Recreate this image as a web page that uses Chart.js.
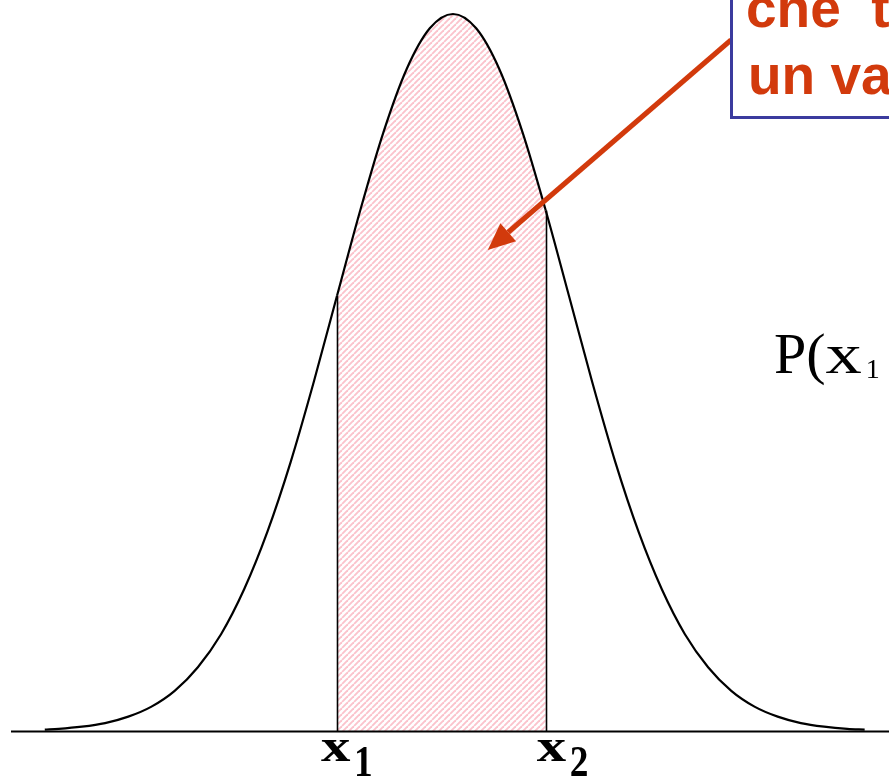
<!DOCTYPE html>
<html>
<head>
<meta charset="utf-8">
<script src="https://cdn.jsdelivr.net/npm/chart.js@4.4.1/dist/chart.umd.min.js"></script>
<style>
  html, body { margin: 0; padding: 0; background: #fff; }
  #wrap { width: 889px; height: 777px; position: relative; }
</style>
</head>
<body>
<div id="wrap"><canvas id="gaussChart"></canvas></div>
<script>
// curva: x in unità di sigma, y normalizzata al picco
const curveX = [-3.52, -3.4, -3.2, -3.0, -2.8, -2.6, -2.4, -2.2, -2.0, -1.8, -1.6, -1.4, -1.2,
  -1.0, -0.8, -0.6, -0.4, -0.2, 0.0, 0.2, 0.4, 0.6, 0.8, 1.0, 1.2, 1.4, 1.6, 1.8, 2.0,
  2.2, 2.4, 2.6, 2.8, 3.0, 3.2, 3.4, 3.55];
const curveY = [0.002, 0.003, 0.006, 0.011, 0.020, 0.034, 0.056, 0.089, 0.135, 0.198, 0.278, 0.375, 0.487,
  0.607, 0.726, 0.835, 0.923, 0.980, 1.000, 0.980, 0.923, 0.835, 0.726, 0.607, 0.487, 0.375, 0.278, 0.198, 0.135,
  0.089, 0.056, 0.034, 0.020, 0.011, 0.006, 0.003, 0.002];

// estremi dell'intervallo ed etichette
const boundX = [-1.0, 0.8];
const boundLabels = ['x', 'x'];
const boundSubs = ['1', '2'];

// testi del riquadro e della probabilità
const boxLines = ['che  tale', 'un valore'];
const probParts = ['P(', 'x', '1', ' \u2264 x \u2264 x'];

// punta della freccia (coordinate dati)
const arrowTip = { x: 0.30, y: 0.671 };

const RED = '#d23a0c';
const BLUE = '#3b3b9e';

// tratteggio rosa dell'area
function makeHatch() {
  const s = 6;
  const c = document.createElement('canvas');
  c.width = s;
  c.height = s;
  const g = c.getContext('2d');
  g.fillStyle = '#ffffff';
  g.fillRect(0, 0, s, s);
  g.strokeStyle = '#fbc3cc';
  g.lineWidth = 1.9;
  for (let k = -1; k <= 1; k++) {
    g.beginPath();
    g.moveTo(k * s, s);
    g.lineTo(k * s + s, 0);
    g.stroke();
  }
  return g.createPattern(c, 'repeat');
}
const hatch = makeHatch();

function inRange(v) {
  return v >= boundX[0] - 1e-6 && v <= boundX[1] + 1e-6;
}

// disegno di assi, etichette, riquadro e freccia
const overlay = {
  id: 'overlay',
  afterDatasetsDraw(chart) {
    const ctx = chart.ctx;
    const xs = chart.scales.x;
    const ys = chart.scales.y;
    const area = chart.chartArea;
    const y0 = ys.getPixelForValue(0);

    ctx.save();
    // linea di base
    ctx.strokeStyle = '#000';
    ctx.lineWidth = 2;
    ctx.beginPath();
    ctx.moveTo(area.left + 1, y0 + 0.5);
    ctx.lineTo(area.right, y0 + 0.5);
    ctx.stroke();

    // verticali agli estremi
    ctx.lineWidth = 1.6;
    boundX.forEach(b => {
      const i = curveX.indexOf(b);
      const px = Math.round(xs.getPixelForValue(b)) + 0.5;
      ctx.beginPath();
      ctx.moveTo(px, y0);
      ctx.lineTo(px, ys.getPixelForValue(curveY[i]));
      ctx.stroke();
    });

    // etichette x1, x2
    const shift = [-16, -9];
    ctx.fillStyle = '#000';
    ctx.textBaseline = 'alphabetic';
    boundX.forEach((b, i) => {
      const px = xs.getPixelForValue(b);
      ctx.save();
      ctx.translate(px + shift[i], 761);
      ctx.scale(1.25, 1);
      ctx.font = 'bold 47px "Liberation Serif", "Times New Roman", serif';
      ctx.fillText(boundLabels[i], 0, 0);
      ctx.restore();
      ctx.save();
      ctx.translate(px + shift[i] + 33, 776);
      ctx.scale(0.85, 1);
      ctx.font = 'bold 44px "Liberation Serif", "Times New Roman", serif';
      ctx.fillText(boundSubs[i], 0, 0);
      ctx.restore();
    });

    // P(x1 ...
    ctx.font = '58px "Liberation Serif", "Times New Roman", serif';
    ctx.fillText(probParts[0], 774, 373);
    let px = 774 + ctx.measureText(probParts[0]).width;
    ctx.save();
    ctx.translate(px, 373);
    ctx.scale(1.25, 1);
    ctx.fillText(probParts[1], 0, 0);
    ctx.restore();
    px += ctx.measureText(probParts[1]).width * 1.25 + 4;
    ctx.font = '28px "Liberation Serif", "Times New Roman", serif';
    ctx.fillText(probParts[2], px, 378);
    px += ctx.measureText(probParts[2]).width + 4;
    ctx.font = '58px "Liberation Serif", "Times New Roman", serif';
    ctx.fillText(probParts[3], px, 373);

    // freccia
    const tx = xs.getPixelForValue(arrowTip.x);
    const ty = ys.getPixelForValue(arrowTip.y);
    const sx = 731, sy = 40;
    const ang = Math.atan2(ty - sy, tx - sx);
    const headLen = 27, headW = 12;
    const bx = tx - headLen * Math.cos(ang);
    const by = ty - headLen * Math.sin(ang);
    ctx.strokeStyle = RED;
    ctx.fillStyle = RED;
    ctx.lineWidth = 5;
    ctx.beginPath();
    ctx.moveTo(sx, sy);
    ctx.lineTo(bx, by);
    ctx.stroke();
    ctx.beginPath();
    ctx.moveTo(tx, ty);
    ctx.lineTo(bx + headW * Math.sin(ang), by - headW * Math.cos(ang));
    ctx.lineTo(bx - headW * Math.sin(ang), by + headW * Math.cos(ang));
    ctx.closePath();
    ctx.fill();

    // riquadro
    ctx.fillStyle = '#fff';
    ctx.fillRect(731, -10, 200, 127);
    ctx.strokeStyle = BLUE;
    ctx.lineWidth = 3;
    ctx.strokeRect(731.5, -10, 200, 127.5);

    ctx.fillStyle = RED;
    ctx.font = 'bold 55px "Liberation Sans", Arial, sans-serif';
    ctx.fillText(boxLines[0], 746, 27);
    ctx.fillText(boxLines[1], 748, 94);
    ctx.restore();
  }
};

new Chart(document.getElementById('gaussChart'), {
  type: 'line',
  data: {
    datasets: [{
      data: curveX.map((x, i) => ({ x: x, y: curveY[i] })),
      borderColor: '#000',
      borderWidth: 2.2,
      backgroundColor: 'rgba(0,0,0,0)',
      pointRadius: 0,
      cubicInterpolationMode: 'monotone',
      fill: 'origin',
      segment: {
        backgroundColor: c => (inRange(c.p0.parsed.x) && inRange(c.p1.parsed.x)) ? hatch : 'rgba(0,0,0,0)'
      }
    }]
  },
  options: {
    responsive: true,
    maintainAspectRatio: false,
    animation: false,
    events: [],
    layout: { padding: { left: 10, right: 0, top: 0, bottom: 46 } },
    scales: {
      x: { type: 'linear', min: -3.82, max: 3.76, display: false },
      y: { min: 0, max: 1.0195, display: false }
    },
    plugins: {
      legend: { display: false },
      tooltip: { enabled: false }
    }
  },
  plugins: [overlay]
});
</script>
</body>
</html>
